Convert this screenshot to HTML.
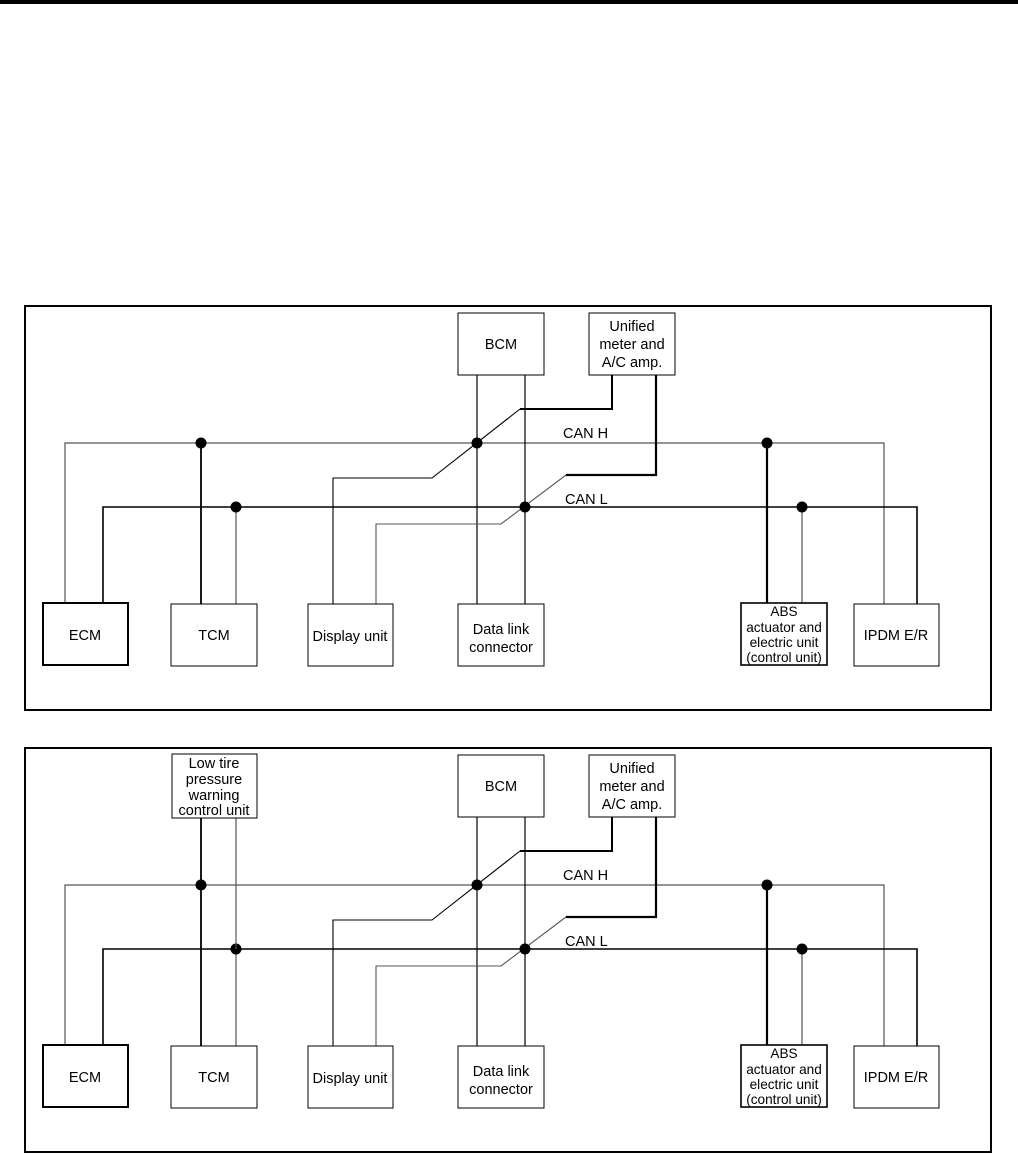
<!DOCTYPE html>
<html><head><meta charset="utf-8"><style>
html,body{margin:0;padding:0;background:#fff;}
svg{display:block;}
text{font-family:"Liberation Sans",sans-serif;font-size:14.5px;fill:#000;}
text.s{font-size:13.6px;}
</style></head><body>
<svg width="1018" height="1155" viewBox="0 0 1018 1155" xmlns="http://www.w3.org/2000/svg">
<rect x="0" y="0" width="1018" height="4" fill="#000"/>
<defs>
<g id="d">
  <rect x="25" y="306" width="966" height="404" fill="none" stroke="#000" stroke-width="2"/>
  <polyline points="65,603 65,443 884,443 884,604" fill="none" stroke="#555" stroke-width="1.2"/>
  <polyline points="103,603 103,507 917,507 917,604" fill="none" stroke="#000" stroke-width="1.6"/>
  <line x1="201" y1="443" x2="201" y2="604" stroke="#000" stroke-width="1.8"/>
  <line x1="236" y1="507" x2="236" y2="604" stroke="#555" stroke-width="1.2"/>
  <line x1="477" y1="375" x2="477" y2="604" stroke="#000" stroke-width="1.2"/>
  <line x1="525" y1="375" x2="525" y2="604" stroke="#000" stroke-width="1.2"/>
  <polyline points="333,604 333,478 432,478 520,409" fill="none" stroke="#000" stroke-width="1.1"/>
  <polyline points="520,409 612,409 612,375" fill="none" stroke="#000" stroke-width="2"/>
  <polyline points="376,604 376,524 501,524 566,475" fill="none" stroke="#555" stroke-width="1.1"/>
  <polyline points="566,475 656,475 656,375" fill="none" stroke="#000" stroke-width="2.2"/>
  <line x1="767" y1="443" x2="767" y2="604" stroke="#000" stroke-width="2.2"/>
  <line x1="802" y1="507" x2="802" y2="604" stroke="#555" stroke-width="1.2"/>
  <circle cx="201" cy="443" r="5.5"/>
  <circle cx="477" cy="443" r="5.5"/>
  <circle cx="767" cy="443" r="5.5"/>
  <circle cx="236" cy="507" r="5.5"/>
  <circle cx="525" cy="507" r="5.5"/>
  <circle cx="802" cy="507" r="5.5"/>
  <text x="563" y="438">CAN H</text>
  <text x="565" y="504">CAN L</text>
  <rect x="458" y="313" width="86" height="62" fill="#fff" stroke="#000" stroke-width="1"/>
  <text x="501" y="349" text-anchor="middle">BCM</text>
  <rect x="589" y="313" width="86" height="62" fill="#fff" stroke="#000" stroke-width="1"/>
  <text x="632" y="331" text-anchor="middle">Unified</text>
  <text x="632" y="349" text-anchor="middle">meter and</text>
  <text x="632" y="367" text-anchor="middle">A/C amp.</text>
  <rect x="43" y="603" width="85" height="62" fill="#fff" stroke="#000" stroke-width="2"/>
  <text x="85" y="640" text-anchor="middle">ECM</text>
  <rect x="171" y="604" width="86" height="62" fill="#fff" stroke="#000" stroke-width="1"/>
  <text x="214" y="640" text-anchor="middle">TCM</text>
  <rect x="308" y="604" width="85" height="62" fill="#fff" stroke="#000" stroke-width="1"/>
  <text x="350" y="641" text-anchor="middle">Display unit</text>
  <rect x="458" y="604" width="86" height="62" fill="#fff" stroke="#000" stroke-width="1"/>
  <text x="501" y="634" text-anchor="middle">Data link</text>
  <text x="501" y="652" text-anchor="middle">connector</text>
  <rect x="741" y="603" width="86" height="62" fill="#fff" stroke="#000" stroke-width="1.6"/>
  <text class="s" x="784" y="616" text-anchor="middle">ABS</text>
  <text class="s" x="784" y="632" text-anchor="middle">actuator and</text>
  <text class="s" x="784" y="647" text-anchor="middle">electric unit</text>
  <text class="s" x="784" y="662" text-anchor="middle">(control unit)</text>
  <rect x="854" y="604" width="85" height="62" fill="#fff" stroke="#000" stroke-width="1"/>
  <text x="896" y="640" text-anchor="middle">IPDM E/R</text>
</g>
</defs>
<use href="#d"/>
<g transform="translate(0,442)">
  <use href="#d"/>
  <line x1="201" y1="376" x2="201" y2="443" stroke="#000" stroke-width="1.8"/>
  <line x1="236" y1="376" x2="236" y2="507" stroke="#555" stroke-width="1.2"/>
</g>
<rect x="172" y="754" width="85" height="64" fill="#fff" stroke="#000" stroke-width="1"/>
<text x="214" y="768" text-anchor="middle">Low tire</text>
<text x="214" y="784" text-anchor="middle">pressure</text>
<text x="214" y="800" text-anchor="middle">warning</text>
<text x="214" y="815" text-anchor="middle">control unit</text>
</svg>
</body></html>
